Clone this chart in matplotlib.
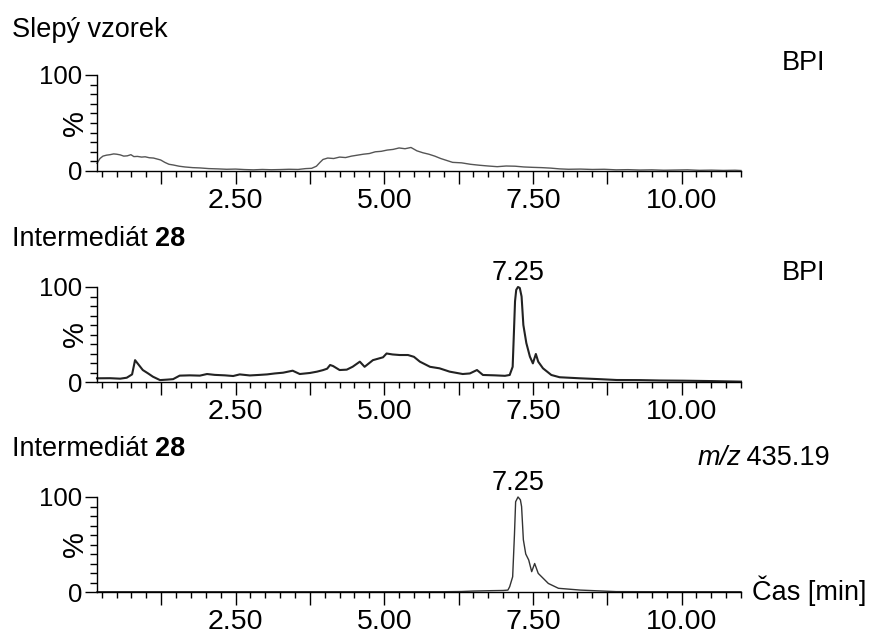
import numpy as np
import matplotlib
matplotlib.use('Agg')
import matplotlib.pyplot as plt
from matplotlib.ticker import FixedLocator, MultipleLocator, FuncFormatter

plt.rcParams['font.family'] = ['Liberation Sans', 'DejaVu Sans']

# chromatogram traces (time [min], relative intensity [%])
t_blank = [0.17, 0.22, 0.27, 0.33, 0.39, 0.45, 0.5, 0.56, 0.62, 0.68, 0.74, 0.79,
           0.85, 0.92, 0.98, 1.05, 1.12, 1.18, 1.24, 1.31, 1.38, 1.45, 1.55, 1.65,
           1.78, 1.9, 2.05, 2.2, 2.35, 2.5, 2.65, 2.8, 2.95, 3.1, 3.25, 3.4, 3.55,
           3.68, 3.78, 3.86, 3.92, 3.97, 4.05, 4.15, 4.25, 4.35, 4.45, 4.55, 4.65,
           4.75, 4.85, 4.95, 5.05, 5.15, 5.25, 5.35, 5.45, 5.55, 5.65, 5.75, 5.85,
           5.95, 6.05, 6.15, 6.3, 6.45, 6.6, 6.75, 6.9, 7.05, 7.2, 7.35, 7.5, 7.65,
           7.8, 7.95, 8.1, 8.3, 8.5, 8.7, 8.9, 9.1, 9.3, 9.5, 9.7, 9.9, 10.1, 10.3,
           10.5, 10.7, 10.9, 11.0]
i_blank = [8, 13, 15.5, 16.5, 17, 17.8, 17.5, 16.8, 15.5, 15.8, 17, 15,
           15.2, 14.5, 14.8, 13.8, 13.5, 12.5, 11.5, 9, 7, 6.3, 5, 4.2,
           3.5, 3.2, 2.5, 2.2, 1.8, 2, 1.5, 1.2, 1.6, 1.3, 1.5, 1.8, 1.6,
           2.5, 2.8, 5, 9, 12, 13.5, 13, 14.5, 14, 15.5, 16.5, 17.5,
           18.2, 20, 20.5, 21.8, 22.5, 24, 23.2, 24.5, 21, 19, 17.5, 15.5,
           13, 11, 9, 8.5, 7, 6, 5.2, 4.5, 5.2, 5, 4.2, 3.8, 3.5,
           3, 2.2, 1.8, 2, 1.6, 1.8, 1.2, 1.4, 1, 1.2, 0.8, 1, 1.2, 0.7,
           0.9, 0.6, 0.8, 0.5]

t_bpi = [0.17, 0.39, 0.56, 0.67, 0.76, 0.81, 0.86, 0.94, 1.03, 1.11, 1.23, 1.35,
         1.45, 1.56, 1.73, 1.9, 2.02, 2.15, 2.32, 2.46, 2.57, 2.74, 2.91, 3.03,
         3.16, 3.3, 3.46, 3.58, 3.75, 3.87, 3.97, 4.04, 4.09, 4.14, 4.25, 4.37,
         4.47, 4.59, 4.67, 4.81, 4.98, 5.04, 5.14, 5.26, 5.4, 5.5, 5.6, 5.77,
         5.93, 6.1, 6.32, 6.44, 6.56, 6.66, 6.86, 7.03, 7.11, 7.16, 7.18, 7.2,
         7.22, 7.25, 7.28, 7.31, 7.34, 7.39, 7.45, 7.5, 7.55, 7.59, 7.67, 7.81,
         7.95, 8.29, 8.62, 8.91, 9.3, 9.63, 10.02, 10.47, 11.0]
i_bpi = [3.9, 4, 3.5, 4.5, 8, 23, 19, 12.6, 9, 5.6, 2, 2.5,
         3, 6.7, 7, 6.7, 8.4, 7.5, 7, 6.3, 8, 6.9, 7.5, 8,
         9, 9.8, 11.9, 8.4, 9.5, 10.9, 12.5, 14, 17.9, 16.8, 12.6, 13,
         16.1, 21.4, 16, 23, 26, 30, 29, 28.4, 28.4, 26.5, 21.4, 16,
         14.4, 10.9, 8.4, 9, 12.6, 7.4, 7, 6.5, 7.4, 16, 50, 85,
         97, 100, 99, 90, 60, 41, 26.7, 19.6, 29.5, 21.4, 14.4, 7.4,
         5, 3.9, 3, 2.1, 2, 1.6, 1.4, 1, 0.4]

t_xic = [0.17, 1.0, 2.0, 3.0, 4.0, 5.0, 6.0, 6.3, 6.5, 6.8, 7.0, 7.08, 7.11,
         7.16, 7.19, 7.21, 7.25, 7.29, 7.31, 7.34, 7.38, 7.43, 7.48, 7.53, 7.59,
         7.76, 7.93, 8.3, 8.9, 9.5, 10.2, 11.0]
i_xic = [0.3, 0.3, 0.3, 0.3, 0.3, 0.3, 0.3, 0.5, 1, 1.4, 1.6, 2, 5.6,
         16, 60, 95, 100, 97, 90, 55, 40, 33.7, 21.4, 30, 19.6,
         9, 3.9, 2, 0.4, 0.3, 0.3, 0.3]

titles = ['Slepý vzorek', 'Intermediát ', 'Intermediát ']
traces = [(t_blank, i_blank, '#555555', 1.0),
          (t_bpi, i_bpi, '#222222', 1.5),
          (t_xic, i_xic, '#333333', 1.0)]

fig = plt.figure(figsize=(8.71, 6.36), dpi=100)
W, H = 871, 636
left, right = 97, 741
panels = [(75, 171), (287, 382), (497, 592)]

axes = []
for (top, bot), (t, y, col, lw) in zip(panels, traces):
    ax = fig.add_axes([left / W, 1 - bot / H, (right - left) / W, (bot - top) / H])
    ax.plot(t, y, color=col, lw=lw, clip_on=False)
    ax.set_xlim(0.17, 11.0)
    ax.set_ylim(0, 100)
    for s in ['top', 'right']:
        ax.spines[s].set_visible(False)
    ax.spines['left'].set_linewidth(1.0)
    ax.spines['bottom'].set_linewidth(1.0)
    ax.xaxis.set_major_locator(FixedLocator([1.25, 2.5, 3.75, 5.0, 6.25, 7.5, 8.75, 10.0]))
    ax.xaxis.set_major_formatter(FuncFormatter(
        lambda v, p: '%.2f' % v if abs(v / 2.5 - round(v / 2.5)) < 1e-6 else ''))
    ax.xaxis.set_minor_locator(MultipleLocator(0.25))
    ax.yaxis.set_major_locator(FixedLocator([0, 100]))
    ax.yaxis.set_minor_locator(MultipleLocator(10))
    ax.tick_params(axis='x', which='major', length=9.5, width=1.0, labelsize=20.5, pad=2.5)
    ax.tick_params(axis='x', which='minor', length=4.3, width=1.0)
    ax.tick_params(axis='y', which='major', length=8.6, width=1.0, labelsize=18.5, pad=2)
    ax.tick_params(axis='y', which='minor', length=5, width=1.0)
    ax.text(-0.034, 0.5, '%', transform=ax.transAxes, rotation=90,
            ha='center', va='center', fontsize=21)
    axes.append(ax)

# panel titles
fig.text(12 / W, 1 - 37 / H, titles[0], fontsize=19.5, va='baseline')
for base in [246, 456]:
    t0 = fig.text(12 / W, 1 - base / H, titles[1], fontsize=19.5, va='baseline')
    fig.canvas.draw()
    bb = t0.get_window_extent()
    fig.text(bb.x1 / W, 1 - base / H, '28', fontsize=19.5, fontweight='bold', va='baseline')

# trace descriptors
fig.text(782 / W, 1 - 70 / H, 'BPI', fontsize=19.5, va='baseline')
fig.text(782 / W, 1 - 280 / H, 'BPI', fontsize=19.5, va='baseline')
mz = fig.text(698 / W, 1 - 465 / H, 'm/z', fontsize=19.5, style='italic', va='baseline')
fig.canvas.draw()
bb = mz.get_window_extent()
fig.text((bb.x1 - 3) / W, 1 - 465 / H, ' 435.19', fontsize=19.5, va='baseline')

# peak labels
axes[1].text(7.25, 107, '7.25', ha='center', va='baseline', fontsize=19.5)
axes[2].text(7.25, 107, '7.25', ha='center', va='baseline', fontsize=19.5)

fig.text(752 / W, 1 - 600 / H, 'Čas [min]', fontsize=19.5, va='baseline')

fig.savefig('out.png', dpi=100)
